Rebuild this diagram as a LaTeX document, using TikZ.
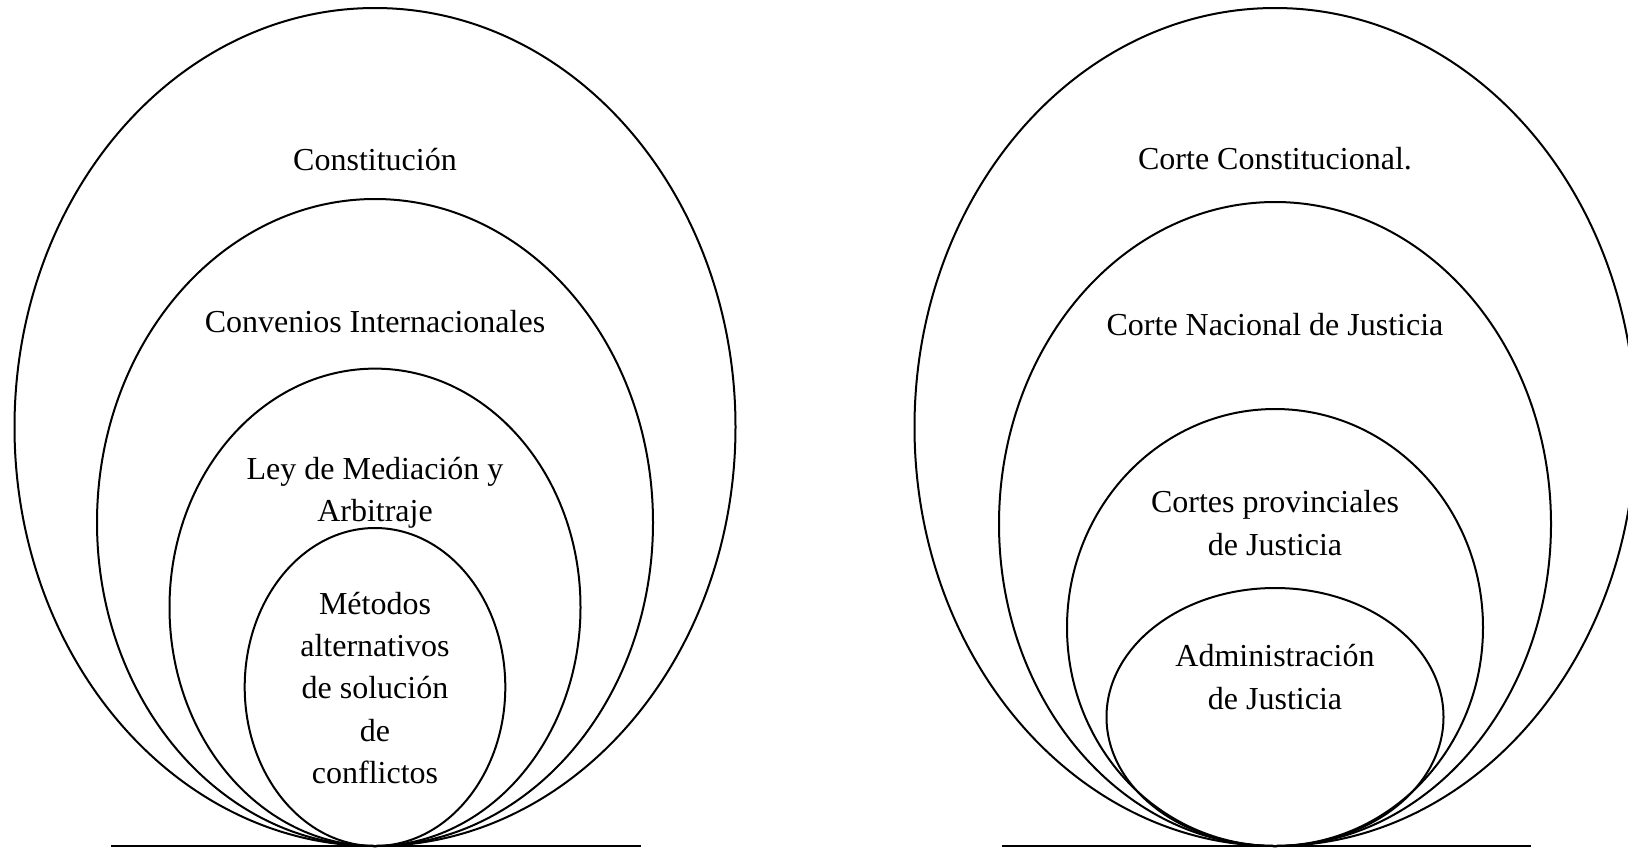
\documentclass[tikz,border=0pt]{standalone}
\usepackage{fontspec}
\setmainfont{Liberation Serif}
\tikzset{
  capa/.style={line width=1pt},
  rotulo/.style={align=center,font=\fontsize{16}{21.15}\selectfont,inner sep=0pt},
}
\begin{document}
\begin{tikzpicture}[x=0.5pt,y=-0.5pt]
 \clip (0,0) rectangle (1628,848);
 \draw[capa](375,427) ellipse [x radius=360.5,y radius=419];
 \draw[capa](375,522.5) ellipse [x radius=278,y radius=323.5];
 \draw[capa](375,607.3) ellipse [x radius=205.5,y radius=238.7];
 \draw[capa](375,687) ellipse [x radius=130.3,y radius=159];
 \draw[capa](111,846)--(641,846);
 \node[rotulo] (constitucion) at (375,160) {Constitución};
 \node[rotulo] (convenios) at (375,322) {Convenios Internacionales};
 \node[rotulo] (ley) at (375,493) {Ley de Mediación y\\Arbitraje};
 \node[rotulo] (metodos) at (375,688) {Métodos\\alternativos\\de solución\\de\\conflictos};
 \draw[capa](1275,427) ellipse [x radius=360.5,y radius=419];
 \draw[capa](1275,524) ellipse [x radius=276,y radius=322];
 \draw[capa](1275,627.5) ellipse [x radius=208,y radius=218.5];
 \draw[capa](1275,717) ellipse [x radius=168.5,y radius=129];
 \draw[capa](1002,846)--(1531,846);
 \node[rotulo] (cc) at (1275,159) {Corte Constitucional.};
 \node[rotulo] (cnj) at (1275,325) {Corte Nacional de Justicia};
 \node[rotulo] (cpj) at (1275,523) {Cortes provinciales\\de Justicia};
 \node[rotulo] (aj) at (1275,677) {Administración\\de Justicia};
\end{tikzpicture}
\end{document}
